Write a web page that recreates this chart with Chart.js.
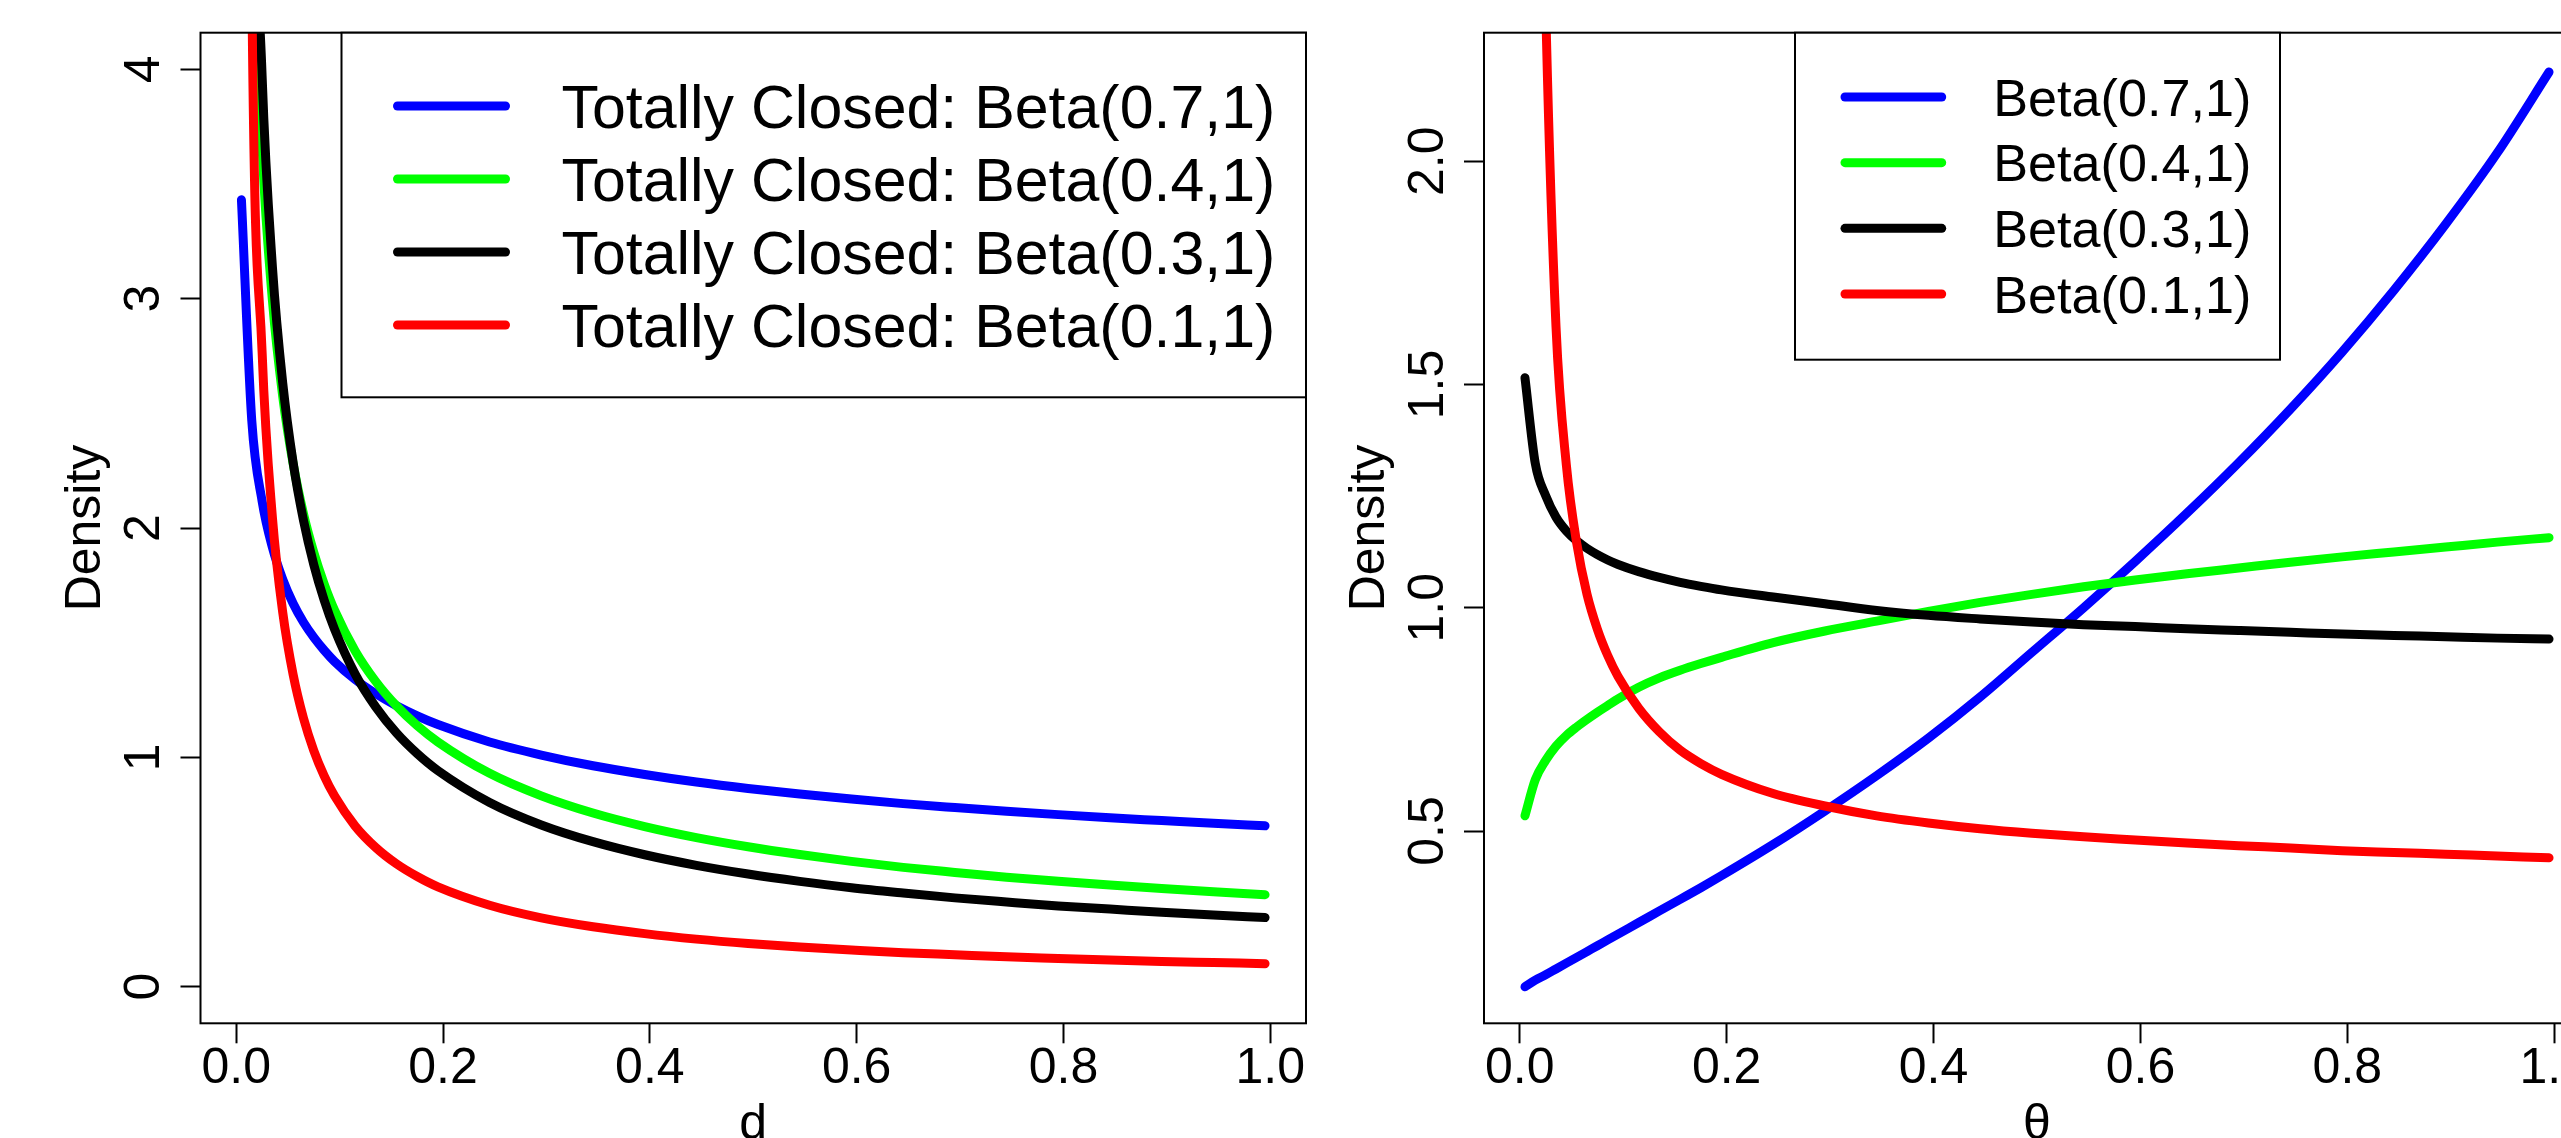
<!DOCTYPE html>
<html>
<head>
<meta charset="utf-8">
<script src="https://cdn.jsdelivr.net/npm/chart.js@4.4.1/dist/chart.umd.min.js"></script>
<style>
html, body { margin:0; padding:0; background:#ffffff; overflow:hidden; width:2561px; height:1138px; }
#c1 { position:absolute; left:0; top:0; width:1340px; height:1200px; }
#c2 { position:absolute; left:1340px; top:0; width:1300px; height:1200px; }
</style>
</head>
<body>
<canvas id="c1" width="1340" height="1200"></canvas>
<canvas id="c2" width="1300" height="1200"></canvas>
<script>
// ---------- data ----------
const xGrid = [0.005,0.015,0.025,0.035,0.045,0.055,0.065,0.075,0.085,0.095,0.115,0.135,0.155,0.175,0.195,0.245,0.295,0.345,0.395,0.445,0.495,0.545,0.595,0.645,0.695,0.745,0.795,0.845,0.895,0.945,0.995];

// left panel (d)
const leftBlue  = [3.431,2.468,2.117,1.914,1.775,1.671,1.589,1.523,1.467,1.418,1.339,1.277,1.225,1.181,1.143,1.067,1.010,0.963,0.925,0.892,0.864,0.840,0.818,0.798,0.781,0.765,0.750,0.736,0.724,0.712,0.701];
const leftGreen = [9.61,4.97,3.659,2.990,2.571,2.280,2.062,1.893,1.756,1.642,1.464,1.330,1.224,1.138,1.067,0.930,0.832,0.757,0.698,0.650,0.610,0.576,0.546,0.520,0.498,0.477,0.459,0.443,0.428,0.414,0.401];
const leftBlack = [12.24,5.67,3.969,3.136,2.629,2.285,2.033,1.839,1.685,1.559,1.363,1.219,1.106,1.016,0.942,0.803,0.705,0.632,0.575,0.529,0.491,0.459,0.431,0.408,0.387,0.369,0.352,0.338,0.324,0.312,0.301];
const leftRed   = [11.77,4.38,2.766,2.043,1.630,1.361,1.171,1.029,0.919,0.832,0.700,0.606,0.535,0.480,0.435,0.355,0.300,0.261,0.231,0.207,0.188,0.173,0.160,0.148,0.139,0.130,0.123,0.116,0.110,0.105,0.100];

// right panel (theta)
const rightBlue  = [0.151,0.166,0.178,0.191,0.204,0.217,0.230,0.243,0.256,0.269,0.295,0.321,0.347,0.373,0.400,0.470,0.545,0.624,0.708,0.800,0.900,1.000,1.104,1.212,1.325,1.445,1.573,1.711,1.859,2.019,2.200];
const rightGreen = [0.534,0.615,0.658,0.690,0.714,0.733,0.750,0.766,0.781,0.796,0.822,0.843,0.860,0.875,0.889,0.922,0.948,0.970,0.992,1.012,1.030,1.047,1.062,1.076,1.089,1.102,1.114,1.125,1.136,1.147,1.157];
const rightBlack = [1.515,1.323,1.251,1.203,1.172,1.150,1.133,1.119,1.107,1.097,1.081,1.068,1.057,1.048,1.040,1.024,1.009,0.994,0.983,0.975,0.968,0.962,0.958,0.953,0.949,0.945,0.941,0.938,0.935,0.932,0.930];
const rightRed   = [8.0,3.6,2.35,1.63,1.32,1.145,1.030,0.952,0.893,0.846,0.775,0.722,0.681,0.651,0.627,0.584,0.556,0.534,0.518,0.505,0.495,0.487,0.480,0.473,0.467,0.462,0.456,0.452,0.448,0.444,0.440];

// labels and ticks
const leftLabels  = ['Totally Closed: Beta(0.7,1)','Totally Closed: Beta(0.4,1)','Totally Closed: Beta(0.3,1)','Totally Closed: Beta(0.1,1)'];
const rightLabels = ['Beta(0.7,1)','Beta(0.4,1)','Beta(0.3,1)','Beta(0.1,1)'];
const xTicks      = [0, 0.2, 0.4, 0.6, 0.8, 1.0];
const leftYTicks  = [0, 1, 2, 3, 4];
const rightYTicks = [0.5, 1.0, 1.5, 2.0];
const seriesColors = ['#0000ff', '#00ff00', '#000000', '#ff0000'];

// ---------- drawing ----------
const FONT = "'Liberation Sans', Arial, Helvetica, sans-serif";

function tickPad(labels) {
  const c = document.createElement('canvas').getContext('2d');
  c.font = '50px ' + FONT;
  let w = 0;
  labels.forEach(l => { w = Math.max(w, c.measureText(l).width); });
  return 35 - w / 2;
}

const framePlugin = {
  id: 'frame',
  afterDraw(chart, args, opts) {
    const ctx = chart.ctx, a = chart.chartArea;
    ctx.save();
    ctx.strokeStyle = '#000';
    ctx.lineWidth = 2;
    ctx.strokeRect(a.left, a.top, a.right - a.left, a.bottom - a.top);
    const L = opts.legend;
    ctx.fillStyle = '#fff';
    ctx.fillRect(L.left, a.top, L.right - L.left, L.bottom - a.top);
    ctx.strokeRect(L.left, a.top, L.right - L.left, L.bottom - a.top);
    // fit the font so the widest label spans the measured width
    ctx.font = '100px ' + FONT;
    let wMax = 0;
    chart.data.datasets.forEach(ds => { wMax = Math.max(wMax, ctx.measureText(ds.label).width); });
    const fs = 100 * L.textWidth / wMax;
    ctx.font = fs + 'px ' + FONT;
    ctx.textAlign = 'left';
    ctx.textBaseline = 'alphabetic';
    chart.data.datasets.forEach((ds, i) => {
      const y = L.firstRow + i * L.rowStep;
      ctx.strokeStyle = ds.borderColor;
      ctx.lineWidth = ds.borderWidth;
      ctx.lineCap = 'round';
      ctx.beginPath();
      ctx.moveTo(L.lineX1, y);
      ctx.lineTo(L.lineX2, y);
      ctx.stroke();
      ctx.fillStyle = '#000';
      ctx.fillText(ds.label, L.textX, y + 0.716 * fs / 2);
    });
    ctx.restore();
  }
};

function makePanel(p) {
  const datasets = p.series.map((ys, i) => ({
    label: p.labels[i],
    data: xGrid.map((x, k) => ({ x: x, y: ys[k] })),
    borderColor: seriesColors[i],
    backgroundColor: seriesColors[i],
    borderWidth: 9,
    borderCapStyle: 'round',
    borderJoinStyle: 'round',
    pointRadius: 0,
    pointHoverRadius: 0,
    cubicInterpolationMode: 'monotone',
    fill: false,
    clip: 0,
    order: 3 - i
  }));
  const gridCfg = { display: true, drawOnChartArea: false, drawTicks: true, tickLength: 20, tickWidth: 2, tickColor: '#000' };
  return new Chart(document.getElementById(p.canvas), {
    type: 'line',
    data: { datasets },
    plugins: [framePlugin],
    options: {
      responsive: false,
      devicePixelRatio: 1,
      animation: false,
      events: [],
      layout: { padding: { top: 32.7, right: p.padRight, bottom: 0, left: 0 } },
      plugins: {
        legend: { display: false },
        tooltip: { enabled: false },
        frame: { legend: p.legend }
      },
      scales: {
        x: {
          type: 'linear',
          min: -0.0346, max: 1.0346,
          afterBuildTicks: s => { s.ticks = xTicks.map(v => ({ value: v })); },
          afterFit: s => { s.height = 176.7; s.paddingLeft = 0; s.paddingRight = 0; },
          ticks: {
            autoSkip: false, minRotation: 0, maxRotation: 0, padding: 1, color: '#000',
            font: { family: FONT, size: 50, lineHeight: 1 },
            callback: v => Number(v).toFixed(1)
          },
          grid: gridCfg,
          border: { display: false },
          title: { display: true, text: p.xTitle, color: '#000', font: { family: FONT, size: 50, lineHeight: 1 }, padding: { top: 0, bottom: 49.3 } }
        },
        y: {
          type: 'linear',
          min: p.yMin, max: p.yMax,
          afterBuildTicks: s => { s.ticks = p.yTicks.map(v => ({ value: v })); },
          afterFit: s => { s.width = p.yAxisWidth; s.paddingTop = 0; s.paddingBottom = 0; },
          ticks: {
            autoSkip: false, minRotation: 90, maxRotation: 90, crossAlign: 'center',
            padding: tickPad(p.yTicks.map(p.yFmt)), color: '#000',
            font: { family: FONT, size: 50, lineHeight: 1 },
            callback: v => p.yFmt(v)
          },
          grid: gridCfg,
          border: { display: false },
          title: { display: true, text: 'Density', color: '#000', font: { family: FONT, size: 50, lineHeight: 1 }, padding: { top: p.yTitlePad, bottom: 0 } }
        }
      }
    }
  });
}

makePanel({
  canvas: 'c1',
  series: [leftBlue, leftGreen, leftBlack, leftRed],
  labels: leftLabels,
  xTitle: 'd',
  yTicks: leftYTicks,
  yFmt: v => String(Number(v)),
  yMin: -0.16, yMax: 4.16,
  yAxisWidth: 200.5,
  yTitlePad: 61.7,
  padRight: 34,
  legend: { left: 341.5, right: 1306, bottom: 397.3, lineX1: 397.5, lineX2: 505.5, textX: 561.5, firstRow: 106, rowStep: 73, textWidth: 714 }
});

makePanel({
  canvas: 'c2',
  series: [rightBlue, rightGreen, rightBlack, rightRed],
  labels: rightLabels,
  xTitle: 'θ',
  yTicks: rightYTicks,
  yFmt: v => Number(v).toFixed(1),
  yMin: 0.0693, yMax: 2.288,
  yAxisWidth: 144,
  yTitlePad: 5.2,
  padRight: 50,
  legend: { left: 455, right: 940, bottom: 359.7, lineX1: 505, lineX2: 601.7, textX: 653.3, firstRow: 97, rowStep: 65.67, textWidth: 258 }
});
</script>
</body>
</html>
